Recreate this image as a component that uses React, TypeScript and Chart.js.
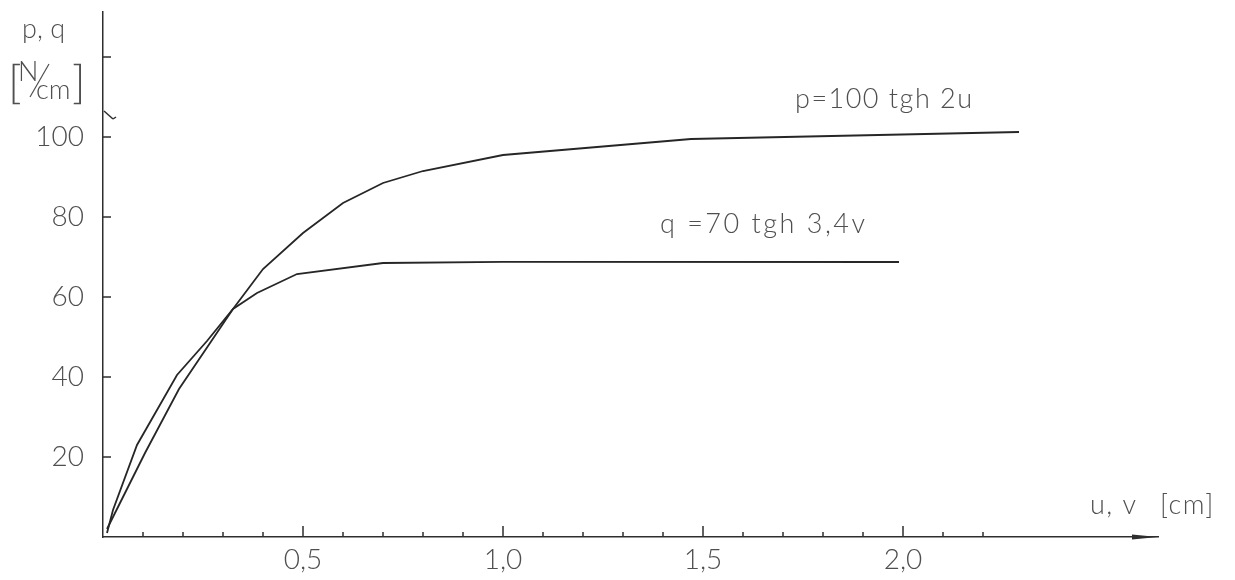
import React, { useEffect, useRef } from "react";
import { Chart, registerables } from "chart.js";

Chart.register(...registerables);

// p = 100 tgh 2u  (u in cm, p in N/cm)
const pU = [0.01, 0.105, 0.19, 0.325, 0.4, 0.5, 0.6, 0.7, 0.8, 1.0, 1.47, 2.29];
const pValues = [2, 21, 37, 57, 67, 76, 83.5, 88.5, 91.5, 95.5, 99.5, 101.25];

// q = 70 tgh 3,4v
const qV = [0.01, 0.025, 0.085, 0.185, 0.26, 0.325, 0.385, 0.485, 0.7, 1.0, 1.99];
const qValues = [1, 6.75, 23, 40.5, 49, 57, 61, 65.75, 68.5, 68.8, 68.75];

// axes
const X_MAJOR = [0.5, 1.0, 1.5, 2.0];
const X_MAJOR_LABELS = ["0,5", "1,0", "1,5", "2,0"];
const X_MINOR = [0.1, 0.2, 0.3, 0.4, 0.6, 0.7, 0.8, 0.9, 1.1, 1.2, 1.3, 1.4, 1.6, 1.7, 1.8, 1.9, 2.1, 2.2];
const Y_TICKS = [20, 40, 60, 80, 100, 120];
const Y_LABELED = [20, 40, 60, 80, 100];
const X_MAX = 2.6375;
const Y_MAX = 131.25;

const P_LABEL = "p=100 tgh 2u";
const Q_LABEL = "q =70 tgh 3,4v";
const Y_TITLE = "p, q";
const X_TITLE = "u, v";
const X_UNIT = "[cm]";

const FONT = "Lato, 'Open Sans', sans-serif";
const TEXT_COLOR = "#4f4f4f";
const LINE_COLOR = "#262626";
const AXIS_COLOR = "#2e2e2e";

const overlay = {
  id: "overlay",
  afterDraw(chart: any) {
    const { ctx, chartArea, scales } = chart;
    const x = scales.x;
    const y = scales.y;
    ctx.save();
    ctx.strokeStyle = AXIS_COLOR;
    ctx.lineWidth = 1.5;
    const line = (x1: number, y1: number, x2: number, y2: number) => {
      ctx.beginPath();
      ctx.moveTo(x1, y1);
      ctx.lineTo(x2, y2);
      ctx.stroke();
    };
    // inward y ticks
    for (const v of Y_TICKS) {
      const py = y.getPixelForValue(v);
      line(chartArea.left, py, chartArea.left + 8, py);
    }
    // x ticks (upward)
    for (const v of X_MINOR) {
      const px = x.getPixelForValue(v);
      line(px, chartArea.bottom, px, chartArea.bottom - 5);
    }
    for (const v of X_MAJOR) {
      const px = x.getPixelForValue(v);
      line(px, chartArea.bottom, px, chartArea.bottom - 11);
    }
    // arrow head on x axis
    ctx.fillStyle = AXIS_COLOR;
    ctx.beginPath();
    ctx.moveTo(chartArea.right, chartArea.bottom);
    ctx.lineTo(chartArea.right - 26, chartArea.bottom - 2.5);
    ctx.lineTo(chartArea.right - 26, chartArea.bottom + 2.5);
    ctx.closePath();
    ctx.fill();
    // axis break mark
    const by = y.getPixelForValue(105.5);
    line(chartArea.left + 1, by - 4, chartArea.left + 10, by + 4);
    line(chartArea.left + 10, by + 4, chartArea.left + 13, by + 2);

    // texts
    ctx.fillStyle = TEXT_COLOR;
    ctx.textBaseline = "alphabetic";
    ctx.textAlign = "left";
    ctx.font = `300 27px ${FONT}`;
    (ctx as any).letterSpacing = "1.5px";
    ctx.fillText(P_LABEL, x.getPixelForValue(1.73), y.getPixelForValue(107.25));
    (ctx as any).letterSpacing = "2.5px";
    ctx.fillText(Q_LABEL, x.getPixelForValue(1.3925), y.getPixelForValue(76));
    (ctx as any).letterSpacing = "0px";

    // y title
    ctx.font = `300 27px ${FONT}`;
    ctx.fillText(Y_TITLE, 22, 38);
    ctx.font = `300 46px ${FONT}`;
    ctx.fillText("[", 8, 98);
    ctx.fillText("]", 72, 98);
    ctx.font = `300 27px ${FONT}`;
    ctx.fillText("N", 18, 81);
    ctx.fillText("cm", 36, 99);
    ctx.lineWidth = 1.2;
    ctx.strokeStyle = TEXT_COLOR;
    line(49, 64, 30, 97);

    // x title
    ctx.font = `300 27px ${FONT}`;
    (ctx as any).letterSpacing = "1.5px";
    ctx.fillText(X_TITLE, 1090, 514);
    ctx.fillText(X_UNIT, 1160, 514);
    (ctx as any).letterSpacing = "0px";
    ctx.restore();
  },
};

export default function App() {
  const ref = useRef<HTMLCanvasElement | null>(null);
  useEffect(() => {
    document.body.style.margin = "0";
    const canvas = ref.current;
    if (!canvas) return;
    const chart = new Chart(canvas, {
      type: "scatter",
      data: {
        datasets: [
          {
            label: "p",
            data: pU.map((u, i) => ({ x: u, y: pValues[i] })),
            showLine: true,
            borderColor: LINE_COLOR,
            borderWidth: 1.8,
            pointRadius: 0,
            tension: 0,
          },
          {
            label: "q",
            data: qV.map((v, i) => ({ x: v, y: qValues[i] })),
            showLine: true,
            borderColor: LINE_COLOR,
            borderWidth: 1.8,
            pointRadius: 0,
            tension: 0,
          },
        ],
      },
      options: {
        animation: false,
        responsive: false,
        layout: { padding: { top: 12, right: 77, left: 0, bottom: 0 } },
        plugins: {
          legend: { display: false },
          tooltip: { enabled: false },
        },
        scales: {
          x: {
            type: "linear",
            min: 0,
            max: X_MAX,
            grid: { display: true, drawOnChartArea: false, drawTicks: false },
            border: { display: true, color: AXIS_COLOR, width: 1.5 },
            afterBuildTicks: (scale: any) => {
              scale.ticks = X_MAJOR.map((v) => ({ value: v }));
            },
            afterFit: (scale: any) => {
              scale.height = 43;
              scale.paddingLeft = 0;
              scale.paddingRight = 0;
            },
            ticks: {
              padding: 6,
              color: TEXT_COLOR,
              font: { family: FONT, size: 28, weight: "300" as any },
              maxRotation: 0,
              autoSkip: false,
              callback: (v: any) => {
                const i = X_MAJOR.indexOf(Number(v));
                return i >= 0 ? X_MAJOR_LABELS[i] : "";
              },
            },
          },
          y: {
            type: "linear",
            min: 0,
            max: Y_MAX,
            grid: { display: true, drawOnChartArea: false, drawTicks: false },
            border: { display: true, color: AXIS_COLOR, width: 1.5 },
            afterBuildTicks: (scale: any) => {
              scale.ticks = Y_TICKS.map((v) => ({ value: v }));
            },
            afterFit: (scale: any) => {
              scale.width = 103;
              scale.paddingTop = 0;
              scale.paddingBottom = 0;
            },
            ticks: {
              padding: 19,
              color: TEXT_COLOR,
              font: { family: FONT, size: 28, weight: "300" as any },
              autoSkip: false,
              callback: (v: any) => (Y_LABELED.includes(Number(v)) ? String(v) : ""),
            },
          },
        },
      },
      plugins: [overlay],
    });
    return () => chart.destroy();
  }, []);
  return <canvas ref={ref} width={1235} height={580} style={{ display: "block" }} />;
}
